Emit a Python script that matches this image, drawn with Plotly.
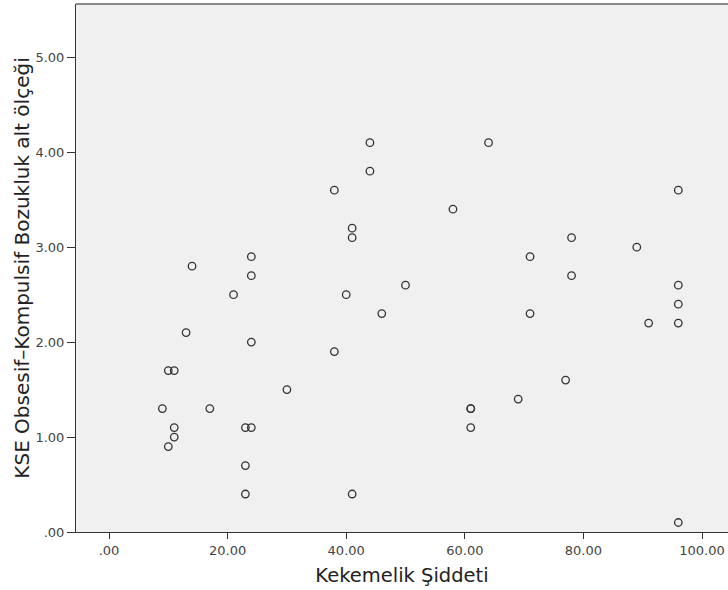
import plotly.graph_objects as go

# Kekemelik Şiddeti (x) vs KSE Obsesif-Kompulsif Bozukluk alt ölçeği (y)
kekemelik = [9, 10, 11, 10, 11, 11, 13, 14, 17, 21, 23, 24, 23, 23, 24, 24, 24,
             30, 38, 38, 40, 41, 41, 41, 44, 44, 46, 50, 58, 61, 61, 61, 64, 69,
             71, 71, 77, 78, 78, 89, 91, 96, 96, 96, 96, 96]
kse_ok = [1.3, 1.7, 1.7, 0.9, 1.1, 1.0, 2.1, 2.8, 1.3, 2.5, 1.1, 1.1, 0.7, 0.4, 2.9, 2.7, 2.0,
          1.5, 3.6, 1.9, 2.5, 3.2, 3.1, 0.4, 4.1, 3.8, 2.3, 2.6, 3.4, 1.3, 1.3, 1.1, 4.1, 1.4,
          2.9, 2.3, 1.6, 3.1, 2.7, 3.0, 2.2, 3.6, 2.6, 2.4, 2.2, 0.1]

x_tickvals = [0, 20, 40, 60, 80, 100]
x_ticktext = [".00", "20.00", "40.00", "60.00", "80.00", "100.00"]
y_tickvals = [0, 1, 2, 3, 4, 5]
y_ticktext = [".00", "1.00", "2.00", "3.00", "4.00", "5.00"]

x_title = "Kekemelik Şiddeti"
y_title = "KSE Obsesif–Kompulsif Bozukluk alt ölçeği"

fig = go.Figure()
fig.add_trace(go.Scatter(
    x=kekemelik, y=kse_ok, mode="markers",
    marker=dict(symbol="circle-open", size=7.5, color="#333333",
                line=dict(width=1.3, color="#333333")),
    hoverinfo="x+y", showlegend=False,
))

fig.update_layout(
    width=728, height=590,
    margin=dict(l=76, r=0, t=4, b=58),
    paper_bgcolor="white",
    plot_bgcolor="#f0f0f0",
    font=dict(family="DejaVu Sans", size=12, color="#444444"),
    xaxis=dict(
        range=[-5.565, 104.38], tickvals=x_tickvals, ticktext=x_ticktext,
        automargin=False,
        showgrid=False, zeroline=False, showline=True, linecolor="#333333", linewidth=1,
        ticks="outside", ticklen=6, tickwidth=1, tickcolor="#333333",
        tickfont=dict(size=13, color="#444444"),
        title=dict(text=x_title, font=dict(size=19.5, color="#222222"), standoff=11),
    ),
    yaxis=dict(
        range=[0, 5.561], tickvals=y_tickvals, ticktext=y_ticktext,
        automargin=False,
        showgrid=False, zeroline=False, showline=True, linecolor="#333333", linewidth=1,
        ticks="outside", ticklen=8, tickwidth=1, tickcolor="#333333",
        tickfont=dict(size=13, color="#444444"),
        title=dict(text=y_title, font=dict(size=20, color="#222222"), standoff=0),
    ),
    shapes=[dict(type="line", xref="paper", yref="paper", x0=0, x1=1, y0=1, y1=1,
                 line=dict(color="#8a8a8a", width=2))],
)

fig.write_html("out.html", config={"displayModeBar": False},
               post_script="document.body.style.margin='0';document.body.style.overflow='hidden';")
